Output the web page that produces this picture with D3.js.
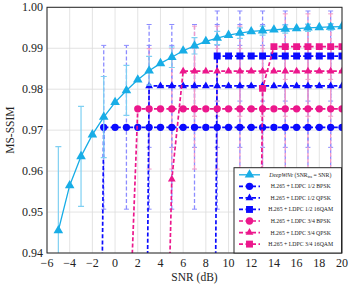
<!DOCTYPE html>
<html>
<head>
<meta charset="utf-8">
<script src="https://d3js.org/d3.v7.min.js"></script>
<style>
  body { margin: 0; background: white; }
  svg { font-family: "Liberation Serif", "DejaVu Serif", serif; }
  .grid line { stroke: #dcdcdc; stroke-width: 0.8; }
  .tick-label { font-size: 12px; fill: #222; }
  .axis-label { font-size: 11.5px; fill: #222; }
  .legend-text { font-size: 5.8px; fill: #222; }
</style>
</head>
<body>
<svg id="chart" width="352" height="285"></svg>
<script>
// ---- data ----
const xTicks = [-6, -4, -2, 0, 2, 4, 6, 8, 10, 12, 14, 16, 18, 20];
const yTicks = [0.94, 0.95, 0.96, 0.97, 0.98, 0.99, 1.00];

const deepX = [-5, -4, -3, -2, -1, 0, 1, 2, 3, 4, 5, 6, 7, 8, 9, 10, 11, 12, 13, 14, 15, 16, 17, 18, 19, 20];
const deepY = [0.9455, 0.9565, 0.9636, 0.9689, 0.9732, 0.9768, 0.9797, 0.9823, 0.9845, 0.9863, 0.9878, 0.9894, 0.9906,
               0.9917, 0.9925, 0.9932, 0.9937, 0.9941, 0.9943, 0.9945, 0.9947, 0.9948, 0.9950, 0.9951, 0.9952, 0.9953];
const deepErrX = [-5, -3, -1, 1, 3, 5, 7, 9, 11, 13, 15, 17, 19];
const deepErr = [0.0205, 0.0122, 0.0099, 0.0061, 0.0035, 0.0025, 0.0020, 0.0016, 0.0013, 0.0011, 0.0010, 0.0009, 0.0008];

const bpsk12X = [-2, -1, 0, 1, 2, 3, 4, 5, 6, 7, 8, 9, 10, 11, 12, 13, 14, 15, 16, 17, 18, 19, 20];
const bpsk12Y = [0.715, 0.9707, 0.9707, 0.9707, 0.9707, 0.9707, 0.9707, 0.9707, 0.9707, 0.9707, 0.9707, 0.9707,
                 0.9707, 0.9707, 0.9707, 0.9707, 0.9707, 0.9707, 0.9707, 0.9707, 0.9707, 0.9707, 0.9707];
const bpsk12ErrX = [-1, 1, 3, 5, 7, 9, 11, 13, 15, 17, 19];
const bpsk12Err = [0.020, 0.020, 0.020, 0.020, 0.020, 0.020, 0.020, 0.020, 0.020, 0.020, 0.020];

const qpsk12X = [2, 3, 4, 5, 6, 7, 8, 9, 10, 11, 12, 13, 14, 15, 16, 17, 18, 19, 20];
const qpsk12Y = [0.67, 0.9808, 0.9808, 0.9808, 0.9808, 0.9808, 0.9808, 0.9808, 0.9808, 0.9808, 0.9808, 0.9808,
                 0.9808, 0.9808, 0.9808, 0.9808, 0.9808, 0.9808, 0.9808];
const qpsk12ErrX = [3, 5, 7, 9, 11, 13, 15, 17, 19];
const qpsk12Err = [0.015, 0.015, 0.015, 0.015, 0.015, 0.015, 0.015, 0.015, 0.015];

const qam12X = [8, 9, 10, 11, 12, 13, 14, 15, 16, 17, 18, 19, 20];
const qam12Y = [0.62, 0.9881, 0.9881, 0.9881, 0.9881, 0.9881, 0.9881, 0.9881, 0.9881, 0.9881, 0.9881, 0.9881, 0.9881];
const qam12ErrX = [9, 11, 13, 15, 17, 19];
const qam12Err = [0.011, 0.011, 0.011, 0.011, 0.011, 0.011];

const bpsk34X = [1, 2, 3, 4, 5, 6, 7, 8, 9, 10, 11, 12, 13, 14, 15, 16, 17, 18, 19, 20];
const bpsk34Y = [0.902, 0.9752, 0.9752, 0.9752, 0.9752, 0.9752, 0.9752, 0.9752, 0.9752, 0.9752, 0.9752, 0.9752,
                 0.9752, 0.9752, 0.9752, 0.9752, 0.9752, 0.9752, 0.9752, 0.9752];
const bpsk34ErrX = [3, 5, 7, 9, 11, 13, 15, 17, 19];
const bpsk34Err = [0.0147, 0.0147, 0.0147, 0.0147, 0.0147, 0.0147, 0.0147, 0.0147, 0.0147];

const qpsk34X = [4, 5, 6, 7, 8, 9, 10, 11, 12, 13, 14, 15, 16, 17, 18, 19, 20];
const qpsk34Y = [0.8455, 0.958, 0.9844, 0.9844, 0.9844, 0.9844, 0.9844, 0.9844, 0.9844, 0.9844, 0.9844, 0.9844,
                 0.9844, 0.9844, 0.9844, 0.9844, 0.9844];
const qpsk34ErrX = [7, 9, 11, 13, 15, 17, 19];
const qpsk34Err = [0.011, 0.011, 0.011, 0.011, 0.011, 0.011, 0.011];

const qam34X = [12, 13, 14, 15, 16, 17, 18, 19, 20];
const qam34Y = [0.73, 0.9802, 0.9904, 0.9904, 0.9904, 0.9904, 0.9904, 0.9904, 0.9904];
const qam34ErrX = [15, 17, 19];
const qam34Err = [0.008, 0.008, 0.008];

const blue = "#0a0aff", blueLight = "#8c8cff";
const pink = "#ec178c", pinkLight = "#f39ac8";
const cyan = "#18ade6", cyanLight = "#7fd0f2";

const series = [
  {name: "H.265 + LDPC 1/2 BPSK", x: bpsk12X, y: bpsk12Y, ex: bpsk12ErrX, e: bpsk12Err, color: blue, light: blueLight, shape: "circle"},
  {name: "H.265 + LDPC 1/2 QPSK", x: qpsk12X, y: qpsk12Y, ex: qpsk12ErrX, e: qpsk12Err, color: blue, light: blueLight, shape: "triangle"},
  {name: "H.265 + LDPC 1/2 16QAM", x: qam12X, y: qam12Y, ex: qam12ErrX, e: qam12Err, color: blue, light: blueLight, shape: "square"},
  {name: "H.265 + LDPC 3/4 BPSK", x: bpsk34X, y: bpsk34Y, ex: bpsk34ErrX, e: bpsk34Err, color: pink, light: pinkLight, shape: "circle"},
  {name: "H.265 + LDPC 3/4 QPSK", x: qpsk34X, y: qpsk34Y, ex: qpsk34ErrX, e: qpsk34Err, color: pink, light: pinkLight, shape: "triangle"},
  {name: "H.265 + LDPC 3/4 16QAM", x: qam34X, y: qam34Y, ex: qam34ErrX, e: qam34Err, color: pink, light: pinkLight, shape: "square"}
];

// ---- layout ----
const svg = d3.select("#chart");
const mLeft = 47, mRight = 342, mTop = 7.3, mBottom = 253;

const x = d3.scaleLinear().domain([-6, 20]).range([mLeft, mRight]);
const y = d3.scaleLinear().domain([0.94, 1.0]).range([mBottom, mTop]);

const symbols = {
  circle: d3.symbol().type(d3.symbolCircle).size(42),
  triangle: d3.symbol().type(d3.symbolTriangle).size(26),
  square: d3.symbol().type(d3.symbolSquare).size(48)
};
const deepSymbol = d3.symbol().type(d3.symbolTriangle).size(40);

svg.append("clipPath").attr("id", "plot-clip")
  .append("rect").attr("x", mLeft).attr("y", mTop).attr("width", mRight - mLeft).attr("height", mBottom - mTop);

// grid
const grid = svg.append("g").attr("class", "grid");
grid.selectAll(".gx").data(xTicks).join("line")
  .attr("x1", d => x(d)).attr("x2", d => x(d)).attr("y1", mTop).attr("y2", mBottom);
grid.selectAll(".gy").data(yTicks).join("line")
  .attr("x1", mLeft).attr("x2", mRight).attr("y1", d => y(d)).attr("y2", d => y(d));

const plot = svg.append("g").attr("clip-path", "url(#plot-clip)");

// H.265 error bars
series.forEach(s => {
  const bars = s.ex.map((xv, i) => ({x: xv, y: s.y[s.x.indexOf(xv)], e: s.e[i]}));
  const g = plot.append("g").attr("stroke", s.light).attr("fill", "none").attr("stroke-width", 1.3);
  g.selectAll(".bar").data(bars).join("line")
    .attr("x1", d => x(d.x)).attr("x2", d => x(d.x))
    .attr("y1", d => y(d.y - d.e)).attr("y2", d => y(d.y + d.e))
    .attr("stroke-dasharray", "4,2.2");
  g.selectAll(".capTop").data(bars).join("line")
    .attr("x1", d => x(d.x) - 2.5).attr("x2", d => x(d.x) + 2.5)
    .attr("y1", d => y(d.y + d.e)).attr("y2", d => y(d.y + d.e)).attr("stroke-width", 1);
  g.selectAll(".capBot").data(bars).join("line")
    .attr("x1", d => x(d.x) - 2.5).attr("x2", d => x(d.x) + 2.5)
    .attr("y1", d => y(d.y - d.e)).attr("y2", d => y(d.y - d.e)).attr("stroke-width", 1);
});

// H.265 lines and markers
const line = d3.line().x(d => x(d[0])).y(d => y(d[1]));
series.forEach(s => {
  const pts = s.x.map((xv, i) => [xv, s.y[i]]);
  plot.append("path").datum(pts)
    .attr("d", line).attr("fill", "none").attr("stroke", s.color)
    .attr("stroke-width", 1.7).attr("stroke-dasharray", "4,2.2");
  plot.selectAll(null).data(pts.filter(p => p[1] >= 0.94)).join("path")
    .attr("d", symbols[s.shape])
    .attr("transform", d => `translate(${x(d[0])},${y(d[1])})`)
    .attr("fill", s.color);
});

// DeepWiVe error bars
const deepBars = deepErrX.map((xv, i) => ({x: xv, y: deepY[deepX.indexOf(xv)], e: deepErr[i]}));
const dg = plot.append("g").attr("stroke", cyanLight).attr("stroke-width", 1.2);
dg.selectAll(".bar").data(deepBars).join("line")
  .attr("x1", d => x(d.x)).attr("x2", d => x(d.x))
  .attr("y1", d => y(d.y - d.e)).attr("y2", d => y(d.y + d.e));
dg.selectAll(".capTop").data(deepBars).join("line")
  .attr("x1", d => x(d.x) - 3).attr("x2", d => x(d.x) + 3)
  .attr("y1", d => y(d.y + d.e)).attr("y2", d => y(d.y + d.e));
dg.selectAll(".capBot").data(deepBars).join("line")
  .attr("x1", d => x(d.x) - 3).attr("x2", d => x(d.x) + 3)
  .attr("y1", d => y(d.y - d.e)).attr("y2", d => y(d.y - d.e));

// DeepWiVe curve
const deepPts = deepX.map((xv, i) => [xv, deepY[i]]);
plot.append("path").datum(deepPts)
  .attr("d", line).attr("fill", "none").attr("stroke", cyan).attr("stroke-width", 1.3);
plot.selectAll(null).data(deepPts).join("path")
  .attr("d", deepSymbol)
  .attr("transform", d => `translate(${x(d[0])},${y(d[1])})`)
  .attr("fill", cyan);

// axis frame
svg.append("rect").attr("x", mLeft).attr("y", mTop).attr("width", mRight - mLeft).attr("height", mBottom - mTop)
  .attr("fill", "none").attr("stroke", "#262626").attr("stroke-width", 1);

// tick labels
svg.selectAll(".xl").data(xTicks).join("text")
  .attr("class", "tick-label").attr("x", d => x(d)).attr("y", 267)
  .attr("text-anchor", "middle")
  .text(d => d < 0 ? "\u2212" + Math.abs(d) : d);
svg.selectAll(".yl").data(yTicks).join("text")
  .attr("class", "tick-label").attr("x", 43).attr("y", d => y(d) + 4)
  .attr("text-anchor", "end")
  .text(d => d.toFixed(2));

svg.append("text").attr("class", "axis-label")
  .attr("x", (mLeft + mRight) / 2).attr("y", 281).attr("text-anchor", "middle").text("SNR (dB)");
svg.append("text").attr("class", "axis-label")
  .attr("transform", `translate(14,${(mTop + mBottom) / 2}) rotate(-90)`)
  .attr("text-anchor", "middle").text("MS-SSIM");

// legend
const lg = svg.append("g");
lg.append("rect").attr("x", 234).attr("y", 167.7).attr("width", 107.5).attr("height", 85.3)
  .attr("fill", "white").attr("stroke", "#262626").attr("stroke-width", 1);
const rowY = i => 174.8 + i * 11.55;

lg.append("line").attr("x1", 239).attr("x2", 260).attr("y1", rowY(0)).attr("y2", rowY(0))
  .attr("stroke", cyan).attr("stroke-width", 1.3);
lg.append("path").attr("d", deepSymbol).attr("transform", `translate(249.5,${rowY(0)})`).attr("fill", cyan);
const dt = lg.append("text").attr("class", "legend-text").attr("x", 300.3).attr("y", rowY(0) + 2)
  .attr("text-anchor", "middle");
dt.append("tspan").attr("font-style", "italic").text("DeepWiVe");
dt.append("tspan").text(" (SNR");
dt.append("tspan").attr("font-size", "4px").attr("dy", 1.2).text("tra");
dt.append("tspan").attr("dy", -1.2).text("  =  SNR)");

series.forEach((s, i) => {
  const yy = rowY(i + 1);
  lg.append("line").attr("x1", 239).attr("x2", 260).attr("y1", yy).attr("y2", yy)
    .attr("stroke", s.color).attr("stroke-width", 1.7).attr("stroke-dasharray", "4,2.5");
  lg.append("path").attr("d", symbols[s.shape]).attr("transform", `translate(249.5,${yy})`).attr("fill", s.color);
  lg.append("text").attr("class", "legend-text").attr("x", 300.7).attr("y", yy + 2)
    .attr("text-anchor", "middle").text(s.name);
});
</script>
</body>
</html>
